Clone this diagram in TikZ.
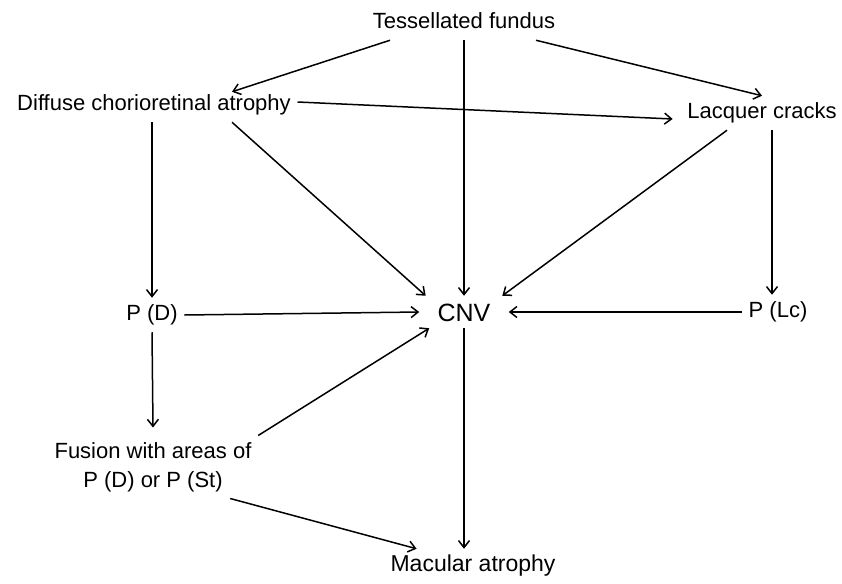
\documentclass[tikz,border=0pt]{standalone}
\usepackage{fontspec}
\setmainfont{Liberation Sans}
\usetikzlibrary{arrows.meta}

\begin{document}
\begin{tikzpicture}[x=1pt, y=-1pt, >={Straight Barb[length=7pt,width=11pt]}, line width=1.5pt,
  txt/.style={font=\fontsize{22}{29}\selectfont, inner sep=6pt},
  lbl/.style={txt, text height=16pt, text depth=5pt}]
\useasboundingbox (0,0) rectangle (842,583);

\node[lbl] (tf) at (464,23) {Tessellated fundus};
\node[lbl] (dca) at (154,105) {Diffuse chorioretinal atrophy};
\node[lbl] (lc) at (762,113) {Lacquer cracks};
\node[lbl] (pd) at (152,315) {P (D)};
\node[font=\fontsize{25}{30}\selectfont, inner sep=0pt, text height=18pt, text depth=0pt,
  minimum width=88pt, minimum height=31pt] (cnv) at (464,312) {CNV};
\node[lbl] (plc) at (778,312) {P (Lc)};
\node[txt, align=center] (fus) at (153,467) {Fusion with areas of\\P (D) or P (St)};
\node[lbl, font=\fontsize{23}{28}\selectfont] (mac) at (473,566) {Macular atrophy};

\draw[->] ([xshift=-74pt]tf.south)--([xshift=78pt,yshift=-4pt]dca.north);
\draw[->] (tf.south)--(cnv.north);
\draw[->] ([xshift=72pt]tf.south)--(lc.north);
\draw[->] ([yshift=3pt]dca.east)--([xshift=-8pt,yshift=-6pt]lc.west);
\draw[->] (pd |- dca.south)--(pd.north);
\draw[->] ([xshift=78pt]dca.south)--(cnv.157);
\draw[->] ([xshift=-35pt]lc.south)--(cnv.23);
\draw[->] ([xshift=10pt]lc.south)--([xshift=-6pt]plc.north);
\draw[->] (pd.east)--(cnv.west);
\draw[->] (plc.west)--(cnv.east);
\draw[->] (pd.south)--([yshift=8pt]fus.north);
\draw[->] (fus.north east)--(cnv.205);
\draw[->] ([xshift=-28pt]fus.south east)--(mac.163);
\draw[->] (cnv.south)--(cnv.south |- mac.north);
\end{tikzpicture}
\end{document}
